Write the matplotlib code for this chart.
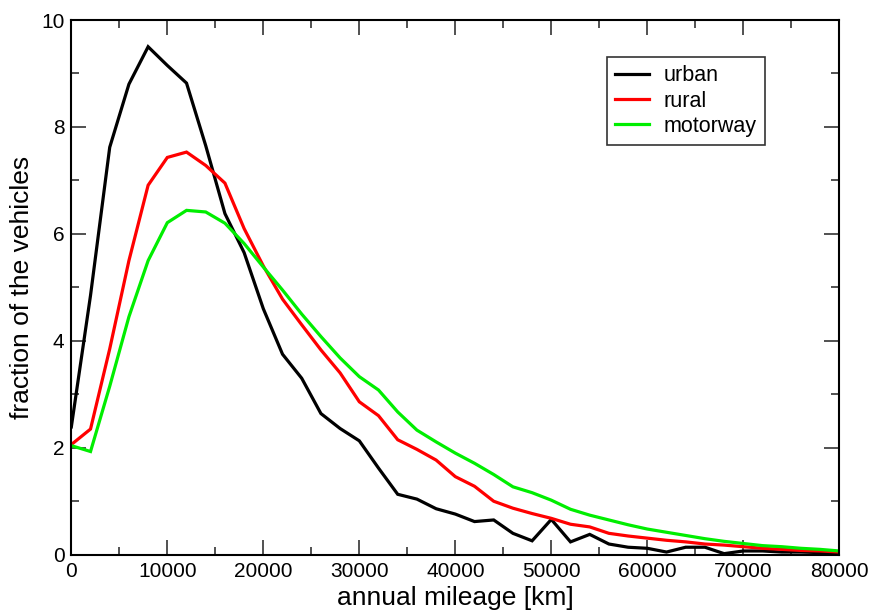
import matplotlib
matplotlib.use("Agg")
import matplotlib.pyplot as plt
from matplotlib.ticker import MultipleLocator

mileage = list(range(0, 80001, 2000))

urban = [2.39, 4.85, 7.62, 8.80, 9.50, 9.15, 8.82, 7.65, 6.38, 5.65,
         4.60, 3.75, 3.30, 2.64, 2.36, 2.13, 1.62, 1.13, 1.04, 0.86,
         0.76, 0.62, 0.65, 0.40, 0.26, 0.66, 0.24, 0.38, 0.20, 0.14,
         0.12, 0.05, 0.14, 0.14, 0.02, 0.07, 0.07, 0.05, 0.05, 0.04, 0.02]
rural = [2.06, 2.35, 3.85, 5.50, 6.91, 7.43, 7.53, 7.28, 6.95, 6.10,
         5.40, 4.78, 4.30, 3.83, 3.40, 2.86, 2.60, 2.15, 1.97, 1.77,
         1.46, 1.28, 1.00, 0.87, 0.77, 0.68, 0.57, 0.52, 0.40, 0.35,
         0.31, 0.27, 0.24, 0.20, 0.18, 0.15, 0.12, 0.10, 0.08, 0.07, 0.05]
motorway = [2.04, 1.93, 3.15, 4.45, 5.50, 6.21, 6.44, 6.41, 6.20, 5.82,
            5.38, 4.95, 4.50, 4.08, 3.68, 3.33, 3.08, 2.67, 2.33, 2.11,
            1.90, 1.71, 1.50, 1.27, 1.16, 1.02, 0.85, 0.74, 0.65, 0.56,
            0.48, 0.42, 0.36, 0.30, 0.25, 0.21, 0.17, 0.15, 0.12, 0.10, 0.07]

series_names = ["urban", "rural", "motorway"]
series_colors = ["#000000", "#ff0000", "#00ee00"]

plt.rcParams['font.family'] = ['Liberation Sans', 'DejaVu Sans']

fig = plt.figure(figsize=(8.73, 6.12), dpi=100)
ax = fig.add_axes([0.0817, 0.0936, 0.8797, 0.8737])

for name, vals, col in zip(series_names, [urban, rural, motorway], series_colors):
    ax.plot(mileage, vals, color=col, lw=2.3, label=name, solid_joinstyle='miter')

ax.set_xlim(0, 80000)
ax.set_ylim(0, 10)
ax.xaxis.set_major_locator(MultipleLocator(10000))
ax.xaxis.set_minor_locator(MultipleLocator(5000))
ax.yaxis.set_major_locator(MultipleLocator(2))
ax.yaxis.set_minor_locator(MultipleLocator(1))
ax.tick_params(which='both', direction='in', top=True, right=True,
               labelsize=15, color='#333333')
ax.tick_params(which='major', length=11, width=1.2, pad=5)
ax.tick_params(which='minor', length=6, width=1.2)
for s in ax.spines.values():
    s.set_linewidth(1.5)

ax.set_xlabel("annual mileage [km]", fontsize=19, labelpad=4)
ax.set_ylabel("fraction of the vehicles", fontsize=19, labelpad=5)

leg = ax.legend(loc='upper left', bbox_to_anchor=(0.698, 0.930), fontsize=15.5,
                frameon=True, fancybox=False, edgecolor='black',
                handlelength=1.55, handletextpad=0.7, labelspacing=0.2,
                borderpad=0.37, borderaxespad=0)
leg.get_frame().set_linewidth(1.2)

fig.savefig("out.png", dpi=100)
